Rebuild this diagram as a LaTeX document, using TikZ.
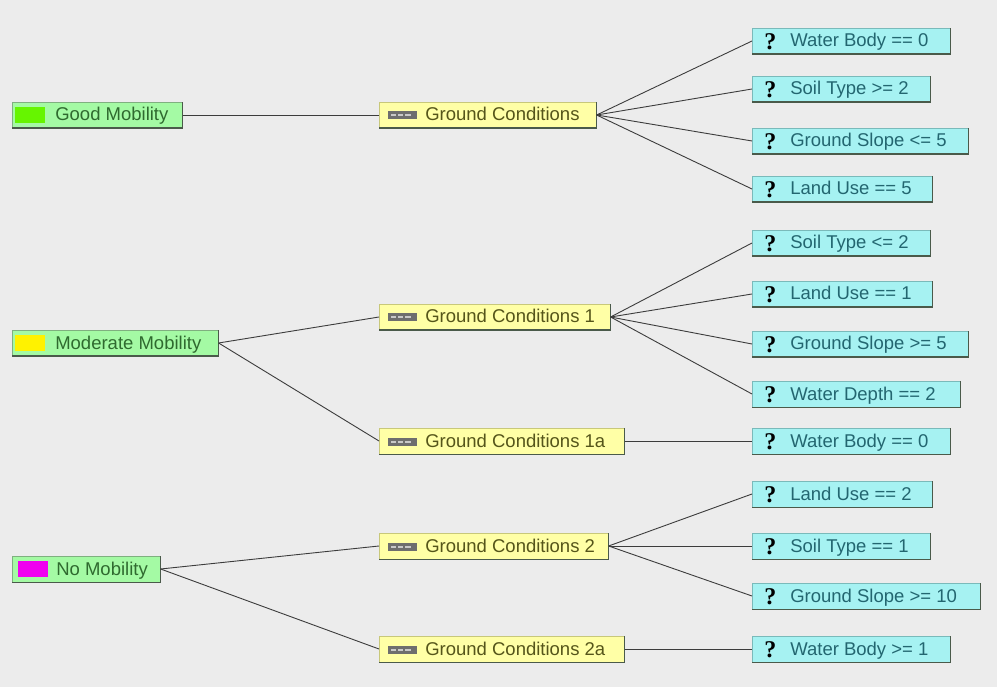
\documentclass[tikz,border=0pt]{standalone}
\usepackage{fontspec}
\setmainfont{Liberation Sans}
\newfontfamily\qfont{Liberation Serif}
\definecolor{bg}{HTML}{ECECEC}
\definecolor{gfill}{HTML}{A4FAA4}
\definecolor{yfill}{HTML}{FFFFA6}
\definecolor{cfill}{HTML}{A6F2F2}
\definecolor{gtext}{HTML}{2F6A2F}
\definecolor{ytext}{HTML}{55551A}
\definecolor{ctext}{HTML}{236670}
\definecolor{gborder}{HTML}{7FB07F}
\definecolor{yborder}{HTML}{C8C87A}
\definecolor{cborder}{HTML}{7ABABA}
\definecolor{shade}{HTML}{4A5A4A}
\definecolor{swgreen}{HTML}{66F500}
\definecolor{swyellow}{HTML}{FFF200}
\definecolor{swmag}{HTML}{F000F0}
\definecolor{icondark}{HTML}{6E6E6E}
\definecolor{iconlight}{HTML}{C8C8C8}
\definecolor{wire}{HTML}{3C3C3C}
\newcommand{\swatch}[1]{\raisebox{-2pt}{\textcolor{#1}{\rule{30pt}{16pt}}}}
\newcommand{\gcicon}{\raisebox{1.5pt}{\rlap{\textcolor{icondark}{\rule{29pt}{8pt}}}\hspace{3pt}\raisebox{3pt}{\textcolor{iconlight}{\rule{5pt}{2pt}\hspace{2pt}\rule{5pt}{2pt}\hspace{2pt}\rule{6pt}{2pt}}}\hspace{6pt}}}
\newcommand{\qmark}{\raisebox{-2.5pt}{\color{black}\qfont\fontsize{24}{24}\selectfont\bfseries ?}}
\newcommand{\mkbox}[6]{%
  \node[#1] (#2) at (#3,#4) {\makebox[#5pt][l]{#6}};
  \draw[shadeline] (#2.south west) -- (#2.south east) -- (#2.north east);
}
\tikzset{
  boxbase/.style={rectangle, inner sep=0pt, anchor=west, minimum height=26pt,
    text height=12pt, text depth=0pt, line width=0.6pt,
    font=\fontsize{18.5}{20}\selectfont},
  gbox/.style={boxbase, fill=gfill, draw=gborder, text=gtext},
  ybox/.style={boxbase, fill=yfill, draw=yborder, text=ytext},
  cbox/.style={boxbase, fill=cfill, draw=cborder, text=ctext},
  shadeline/.style={draw=shade, line width=1.6pt},
  link/.style={draw=wire, line width=0.9pt},
}
\begin{document}
\begin{tikzpicture}[x=1pt,y=-1pt]
\fill[bg] (0,0) rectangle (997,687);
\useasboundingbox (0,0) rectangle (997,687);
% left
\mkbox{gbox}{gm}{12}{115}{170}{\hspace{3pt}\swatch{swgreen}\hspace{10pt}Good Mobility}
\mkbox{gbox}{mm}{12}{343}{206}{\hspace{3pt}\swatch{swyellow}\hspace{10pt}Moderate Mobility}
\mkbox{gbox}{nm}{12}{569}{148}{\hspace{6pt}\swatch{swmag}\hspace{8pt}No Mobility}
% middle
\mkbox{ybox}{gc}{379}{115}{217}{\hspace{9pt}\gcicon\hspace{8pt}Ground Conditions}
\mkbox{ybox}{gca}{379}{317}{231}{\hspace{9pt}\gcicon\hspace{8pt}Ground Conditions 1}
\mkbox{ybox}{gcb}{379}{441}{245}{\hspace{9pt}\gcicon\hspace{8pt}Ground Conditions 1a}
\mkbox{ybox}{gcc}{379}{546}{229}{\hspace{9pt}\gcicon\hspace{8pt}Ground Conditions 2}
\mkbox{ybox}{gcd}{379}{649}{245}{\hspace{9pt}\gcicon\hspace{8pt}Ground Conditions 2a}
% right
\mkbox{cbox}{c1}{752}{41}{198}{\hspace{12pt}\qmark\hspace{14pt}Water Body == 0}
\mkbox{cbox}{c2}{752}{89}{178}{\hspace{12pt}\qmark\hspace{14pt}Soil Type >= 2}
\mkbox{cbox}{c3}{752}{141}{216}{\hspace{12pt}\qmark\hspace{14pt}Ground Slope <= 5}
\mkbox{cbox}{c4}{752}{189}{180}{\hspace{12pt}\qmark\hspace{14pt}Land Use == 5}
\mkbox{cbox}{c5}{752}{243}{178}{\hspace{12pt}\qmark\hspace{14pt}Soil Type <= 2}
\mkbox{cbox}{c6}{752}{294}{180}{\hspace{12pt}\qmark\hspace{14pt}Land Use == 1}
\mkbox{cbox}{c7}{752}{344}{216}{\hspace{12pt}\qmark\hspace{14pt}Ground Slope >= 5}
\mkbox{cbox}{c8}{752}{394}{208}{\hspace{12pt}\qmark\hspace{14pt}Water Depth == 2}
\mkbox{cbox}{c9}{752}{441}{198}{\hspace{12pt}\qmark\hspace{14pt}Water Body == 0}
\mkbox{cbox}{c10}{752}{494}{180}{\hspace{12pt}\qmark\hspace{14pt}Land Use == 2}
\mkbox{cbox}{c11}{752}{546}{178}{\hspace{12pt}\qmark\hspace{14pt}Soil Type == 1}
\mkbox{cbox}{c12}{752}{596}{228}{\hspace{12pt}\qmark\hspace{14pt}Ground Slope >= 10}
\mkbox{cbox}{c13}{752}{649}{198}{\hspace{12pt}\qmark\hspace{14pt}Water Body >= 1}
% connectors
\draw[link] (gm.east) -- (gc.west);
\draw[link] (mm.east) -- (gca.west);
\draw[link] (mm.east) -- (gcb.west);
\draw[link] (nm.east) -- (gcc.west);
\draw[link] (nm.east) -- (gcd.west);
\foreach \c in {c1,c2,c3,c4} \draw[link] (gc.east) -- (\c.west);
\foreach \c in {c5,c6,c7,c8} \draw[link] (gca.east) -- (\c.west);
\draw[link] (gcb.east) -- (c9.west);
\foreach \c in {c10,c11,c12} \draw[link] (gcc.east) -- (\c.west);
\draw[link] (gcd.east) -- (c13.west);
\end{tikzpicture}
\end{document}
